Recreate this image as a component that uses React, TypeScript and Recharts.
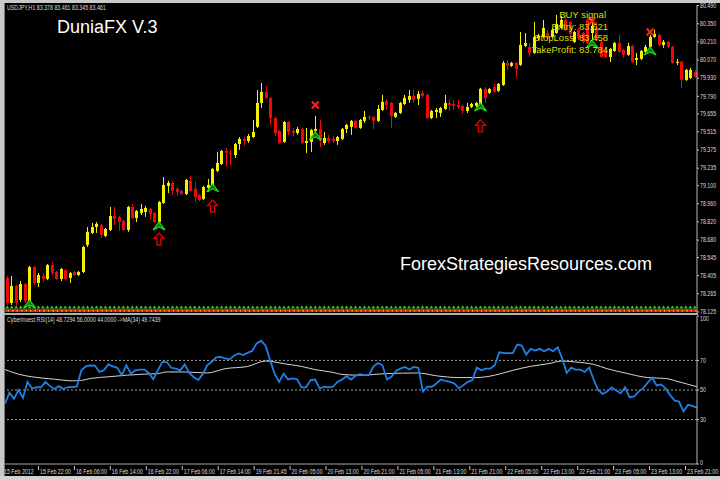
import React from 'react';
import { ComposedChart, Bar, Scatter, Line, XAxis, YAxis, ReferenceLine } from 'recharts';

// [open, high, low, close] for each H1 bar
const candleOHLC: [number, number, number, number][] = [
  [78.388, 78.403, 78.179, 78.195], [78.195, 78.403, 78.179, 78.326], [78.326, 78.334, 78.171, 78.195], [78.218, 78.364, 78.202, 78.341], [78.341, 78.349, 78.195, 78.210],
  [78.202, 78.480, 78.179, 78.472], [78.472, 78.480, 78.334, 78.349], [78.349, 78.426, 78.318, 78.411], [78.403, 78.426, 78.357, 78.380], [78.380, 78.496, 78.372, 78.488],
  [78.488, 78.511, 78.411, 78.426], [78.434, 78.442, 78.372, 78.380], [78.380, 78.465, 78.364, 78.457], [78.449, 78.457, 78.372, 78.380], [78.388, 78.434, 78.349, 78.426],
  [78.434, 78.442, 78.403, 78.411], [78.411, 78.442, 78.403, 78.434], [78.434, 78.635, 78.426, 78.627], [78.642, 78.781, 78.627, 78.743], [78.735, 78.812, 78.727, 78.781],
  [78.781, 78.820, 78.735, 78.805], [78.797, 78.805, 78.696, 78.720], [78.712, 78.774, 78.704, 78.766], [78.758, 78.936, 78.750, 78.866], [78.866, 78.936, 78.797, 78.843],
  [78.859, 78.866, 78.750, 78.820], [78.828, 78.835, 78.750, 78.758], [78.758, 78.944, 78.743, 78.936], [78.936, 78.959, 78.843, 78.851], [78.851, 78.913, 78.820, 78.905],
  [78.889, 78.959, 78.874, 78.920], [78.897, 78.944, 78.859, 78.928], [78.920, 78.928, 78.835, 78.882], [78.889, 78.897, 78.812, 78.820], [78.820, 78.982, 78.805, 78.974],
  [78.967, 79.167, 78.959, 79.106], [79.098, 79.137, 79.044, 79.121], [79.121, 79.129, 79.028, 79.059], [79.075, 79.090, 79.021, 79.052], [79.059, 79.067, 79.028, 79.036],
  [79.036, 79.152, 79.028, 79.144], [79.137, 79.175, 79.052, 79.059], [79.075, 79.129, 78.974, 79.013], [79.028, 79.036, 78.982, 78.990], [78.998, 79.098, 78.990, 79.090],
  [79.083, 79.152, 79.052, 79.106], [79.090, 79.237, 79.083, 79.229], [79.214, 79.361, 79.206, 79.276], [79.268, 79.376, 79.260, 79.368], [79.368, 79.391, 79.245, 79.353],
  [79.353, 79.376, 79.260, 79.345], [79.337, 79.430, 79.314, 79.422], [79.422, 79.476, 79.376, 79.461], [79.461, 79.476, 79.407, 79.445], [79.445, 79.500, 79.430, 79.484],
  [79.476, 79.608, 79.469, 79.515], [79.554, 79.839, 79.546, 79.739], [79.739, 79.893, 79.700, 79.824], [79.824, 79.870, 79.770, 79.778], [79.778, 79.785, 79.569, 79.623],
  [79.623, 79.631, 79.484, 79.507], [79.523, 79.530, 79.422, 79.430], [79.438, 79.600, 79.430, 79.592], [79.592, 79.600, 79.492, 79.515], [79.523, 79.546, 79.484, 79.507],
  [79.507, 79.554, 79.492, 79.538], [79.538, 79.546, 79.422, 79.430], [79.430, 79.546, 79.353, 79.445], [79.438, 79.538, 79.361, 79.530], [79.523, 79.639, 79.515, 79.538],
  [79.538, 79.608, 79.399, 79.445], [79.430, 79.515, 79.415, 79.469], [79.469, 79.492, 79.430, 79.445], [79.461, 79.484, 79.430, 79.445], [79.445, 79.484, 79.415, 79.476],
  [79.461, 79.546, 79.453, 79.538], [79.538, 79.577, 79.507, 79.569], [79.554, 79.608, 79.492, 79.600], [79.600, 79.608, 79.538, 79.546], [79.546, 79.615, 79.538, 79.608],
  [79.600, 79.677, 79.584, 79.631], [79.631, 79.646, 79.608, 79.623], [79.631, 79.639, 79.538, 79.600], [79.600, 79.723, 79.592, 79.693], [79.685, 79.801, 79.677, 79.747],
  [79.754, 79.770, 79.685, 79.723], [79.739, 79.747, 79.546, 79.639], [79.631, 79.669, 79.623, 79.662], [79.662, 79.747, 79.654, 79.739], [79.731, 79.801, 79.723, 79.778],
  [79.762, 79.839, 79.739, 79.793], [79.793, 79.839, 79.739, 79.762], [79.770, 79.832, 79.723, 79.808], [79.816, 79.832, 79.778, 79.793], [79.801, 79.808, 79.615, 79.623],
  [79.623, 79.685, 79.615, 79.677], [79.669, 79.700, 79.623, 79.685], [79.662, 79.708, 79.631, 79.700], [79.693, 79.801, 79.685, 79.739], [79.739, 79.770, 79.677, 79.723],
  [79.731, 79.762, 79.685, 79.716], [79.723, 79.762, 79.693, 79.708], [79.716, 79.723, 79.654, 79.677], [79.677, 79.739, 79.662, 79.708], [79.708, 79.739, 79.700, 79.731],
  [79.716, 79.747, 79.708, 79.739], [79.731, 79.855, 79.708, 79.847], [79.847, 79.862, 79.739, 79.778], [79.816, 79.855, 79.808, 79.847], [79.862, 79.886, 79.816, 79.824],
  [79.832, 79.893, 79.824, 79.886], [79.878, 80.063, 79.870, 80.048], [80.048, 80.071, 79.994, 80.025], [80.025, 80.056, 80.017, 80.048], [80.048, 80.056, 79.932, 80.001],
  [80.032, 80.287, 80.025, 80.187], [80.179, 80.279, 80.171, 80.202], [80.171, 80.202, 80.094, 80.125], [80.125, 80.364, 80.117, 80.249], [80.241, 80.272, 80.225, 80.256],
  [80.249, 80.380, 80.241, 80.318], [80.279, 80.303, 80.225, 80.241], [80.249, 80.318, 80.241, 80.303], [80.279, 80.418, 80.272, 80.349], [80.318, 80.411, 80.310, 80.380],
  [80.380, 80.442, 80.295, 80.303], [80.364, 80.372, 80.256, 80.272], [80.210, 80.295, 80.202, 80.287], [80.303, 80.318, 80.225, 80.241], [80.279, 80.287, 80.195, 80.210],
  [80.380, 80.395, 80.195, 80.202], [80.279, 80.364, 80.195, 80.334], [80.318, 80.364, 80.217, 80.225], [80.210, 80.225, 80.086, 80.094], [80.148, 80.171, 80.086, 80.094],
  [80.094, 80.164, 80.056, 80.156], [80.140, 80.210, 80.133, 80.202], [80.202, 80.264, 80.125, 80.133], [80.148, 80.156, 80.086, 80.110], [80.110, 80.202, 80.102, 80.179],
  [80.179, 80.187, 80.048, 80.056], [80.071, 80.125, 80.032, 80.086], [80.079, 80.148, 80.071, 80.140], [80.133, 80.187, 80.125, 80.171], [80.171, 80.264, 80.164, 80.249],
  [80.249, 80.303, 80.241, 80.272], [80.264, 80.272, 80.179, 80.187], [80.187, 80.225, 80.164, 80.210], [80.210, 80.217, 80.164, 80.171], [80.171, 80.179, 80.040, 80.048],
  [80.048, 80.079, 80.032, 80.056], [80.056, 80.063, 79.855, 79.917], [79.917, 80.001, 79.909, 79.994], [79.932, 80.009, 79.924, 79.994], [79.978, 79.994, 79.932, 79.940],
];

const rsiValues: number[] = [
  40.7, 48.2, 44, 50, 44.7, 55.5, 51, 52, 51.7, 55.5,
  52.6, 50.7, 52.6, 50.7, 52, 52, 52.4, 63.3, 66, 66.7,
  66.5, 62.2, 63.3, 67.3, 66, 65, 60, 66.7, 61, 63.3,
  63.8, 63.8, 61.5, 57.3, 63.3, 68.9, 68.9, 65, 64.4, 63.3,
  67.3, 61.5, 58.6, 56.7, 60.7, 66.7, 69.1, 72, 72.4, 71.3,
  70.7, 73.3, 74.7, 73.6, 75.1, 76.4, 81.5, 83.3, 80, 70,
  61.1, 55.5, 61.1, 57.1, 57.8, 57.3, 51.8, 51.8, 56.7, 57.1,
  51.1, 52.2, 51.8, 52.2, 55.5, 57.1, 59.3, 57.1, 59.6,
  60.7, 60, 60, 66, 68.2, 66.7, 57.1, 58.9, 62.9, 64.4,
  65.6, 63.8, 65.6, 65, 48.9, 52.2, 52.2, 54.4, 57.1, 56.2,
  55.5, 54.4, 51.1, 53.3, 55.5, 56.7, 65.1, 63.3, 64.4, 64.4,
  66.7, 75.5, 74.9, 74.9, 74.9, 80.7, 80, 74, 77.8, 76.7,
  77.8, 76.2, 77.8, 76.2, 78.9, 71.3, 61.5, 65.1, 63.8, 63.8,
  62.2, 65.1, 57.1, 50, 47.3, 48.9, 51.8, 49.6, 47.8, 51.8,
  45.1, 45.6, 48.9, 51.1, 54.9, 58.4, 53.1, 53.8, 51.1, 46.7,
  42.9, 42.2, 35.5, 40, 39.3, 37.8,
];

const maBars = [0, 3, 6, 11, 15, 17, 19, 23, 27, 31, 34, 36, 40, 45, 49, 54, 58, 62, 66, 69, 73, 75, 79, 85, 92, 96, 101, 105, 109, 113, 117, 121, 124, 127, 131, 134, 138, 143, 147, 150, 154];
const maValues = [63.8, 60.7, 58.9, 57.3, 56.2, 56.5, 57.8, 58.9, 60, 60.7, 61.1, 62.2, 62.2, 61.5, 64.4, 65.9, 69.6, 67.8, 65.9, 63.8, 61.9, 60.5, 60, 61.1, 61.5, 59.6, 58.4, 58.4, 60, 63.3, 66, 67.8, 69.6, 68.9, 67.3, 64.4, 61.5, 58.4, 57.8, 55.5, 52.2];

const timeLabelBars = [0, 8, 16, 24, 32, 40, 48, 56, 64, 72, 80, 88, 96, 104, 112, 120, 128, 136, 144, 152];
const timeLabels = [
  '15 Feb 2012', '15 Feb 22:00', '16 Feb 06:00', '16 Feb 14:00', '16 Feb 22:00', '17 Feb 06:00', '17 Feb 14:00',
  '19 Feb 21:45', '20 Feb 05:00', '20 Feb 13:00', '20 Feb 21:00', '21 Feb 05:00', '21 Feb 13:00', '21 Feb 21:00',
  '22 Feb 05:00', '22 Feb 13:00', '22 Feb 21:00', '23 Feb 05:00', '23 Feb 13:00', '23 Feb 21:00',
];

const priceTicks = [80.49, 80.35, 80.21, 80.07, 79.93, 79.79, 79.655, 79.515, 79.375, 79.235, 79.1, 78.96, 78.82, 78.68, 78.545, 78.405, 78.265, 78.125];
const rsiTicks = [100, 70, 50, 30, 0];
const rsiLevels = [70, 50, 30];

const buySignalBars = [5, 34, 46, 69, 106, 131, 144];
const buySignalPrices = [78.218, 78.820, 79.114, 79.515, 79.739, 80.225, 80.171];
const upArrowBars = [34, 46, 106];
const upArrowPrices = [78.735, 78.990, 79.608];
const exitMarkBars = [69, 131, 144];
const exitMarkPrices = [79.723, 80.372, 80.287];
const stripPrice = 78.144;

const BULL = '#f2f200';
const BEAR = '#ee0a0a';
const FONT = "'Liberation Sans', Arial, sans-serif";

const rows: any[] = candleOHLC.map(([open, high, low, close], i) => ({ i, open, high, low, close, strip: stripPrice }));
buySignalBars.forEach((b, k) => { rows[b].buy = buySignalPrices[k]; });
upArrowBars.forEach((b, k) => { rows[b].up = upArrowPrices[k]; });
exitMarkBars.forEach((b, k) => { rows[b].exit = exitMarkPrices[k]; });

const rsiRows: any[] = rsiValues.map((rsi, i) => ({ i, rsi, ma: null }));
maBars.forEach((b, k) => { rsiRows[b].ma = maValues[k]; });

const SmallText = ({ x, y, children, anchor = 'start', fill = '#dcdcdc' }: any) => (
  <text transform={`translate(${x},${y}) scale(0.8,1)`} fontSize={6.6} fontFamily={FONT} fill={fill} textAnchor={anchor}>
    {children}
  </text>
);

const ok = (v: any) => typeof v === 'number' && Number.isFinite(v);

const CandleShape = (props: any) => {
  const { x, y, width, height, payload } = props;
  if (!payload || !ok(x) || !ok(y) || !ok(height)) return <g />;
  const { open, close, high, low } = payload;
  const span = high - low || 1e-9;
  const top0 = Math.min(y, y + height);
  const h = Math.abs(height);
  const toY = (v: number) => top0 + ((high - v) / span) * h;
  const base = Math.round(x + width / 2);
  const color = close >= open ? BULL : BEAR;
  const bt = toY(Math.max(open, close));
  const bb = toY(Math.min(open, close));
  return (
    <g>
      <line x1={base + 0.5} x2={base + 0.5} y1={top0} y2={top0 + h} stroke={color} strokeWidth={1} />
      <rect x={base - 1} y={bt} width={3} height={Math.max(1, bb - bt)} fill={color} />
    </g>
  );
};

const BuyShape = (props: any) => {
  const { cx, cy, payload } = props;
  if (!payload || payload.buy == null || !ok(cx) || !ok(cy)) return <g />;
  return (
    <polygon
      points={`${cx},${cy} ${cx + 6},${cy + 8} ${cx},${cy + 5} ${cx - 6},${cy + 8}`}
      fill="#007a00"
      stroke="#22dd22"
      strokeWidth={1.1}
    />
  );
};

const UpShape = (props: any) => {
  const { cx, cy, payload } = props;
  if (!payload || payload.up == null || !ok(cx) || !ok(cy)) return <g />;
  return (
    <polygon
      points={`${cx},${cy} ${cx + 5},${cy + 5.5} ${cx + 2},${cy + 5.5} ${cx + 2},${cy + 12} ${cx - 2},${cy + 12} ${cx - 2},${cy + 5.5} ${cx - 5},${cy + 5.5}`}
      fill="none"
      stroke="#e00000"
      strokeWidth={1.4}
    />
  );
};

const ExitShape = (props: any) => {
  const { cx, cy, payload } = props;
  if (!payload || payload.exit == null || !ok(cx) || !ok(cy)) return <g />;
  const s = 3.5;
  return (
    <g stroke="#ff2020" strokeWidth={2}>
      <line x1={cx - s} y1={cy - s} x2={cx + s} y2={cy + s} />
      <line x1={cx - s} y1={cy + s} x2={cx + s} y2={cy - s} />
    </g>
  );
};

const StripShape = (props: any) => {
  const { cx, cy } = props;
  if (!ok(cx) || !ok(cy)) return <g />;
  return (
    <g>
      <polygon points={`${cx},${cy - 4} ${cx + 2},${cy - 1} ${cx - 2},${cy - 1}`} fill="#30d030" />
      <rect x={cx - 2.3} y={cy - 0.5} width={4.6} height={3} fill="#f01010" />
      <rect x={cx + 0.5} y={cy + 0.5} width={1.5} height={1.5} fill="#f0c000" />
    </g>
  );
};

const PriceTick = (props: any) => {
  const { x, y, payload } = props;
  return <SmallText x={x} y={y + 2.3}>{Number(payload.value).toFixed(3)}</SmallText>;
};

const RsiTick = (props: any) => {
  const { x, y, payload } = props;
  const v = payload.value;
  const dy = v === 100 ? 5.3 : v === 0 ? 0.6 : 2.3;
  return <SmallText x={x} y={y + dy}>{v}</SmallText>;
};

const TimeTick = (props: any) => {
  const { x, y, payload } = props;
  const k = timeLabelBars.indexOf(payload.value);
  if (k < 0) return <g />;
  return (
    <g>
      <line x1={x - 2.5} x2={x - 2.5} y1={y + 2} y2={y + 6} stroke="#c8c8c8" strokeWidth={1} />
      <SmallText x={x - 1} y={y + 10}>{timeLabels[k]}</SmallText>
    </g>
  );
};

export default function App() {
  return (
    <div style={{ position: 'fixed', left: 0, top: 0, width: 720, height: 479, background: '#000', overflow: 'hidden' }}>
      <div style={{ position: 'absolute', left: 0, top: 0 }}>
        <ComposedChart width={720} height={316} data={rows} margin={{ top: 5, right: 0, bottom: 3, left: 5 }} barCategoryGap={0} barGap={0}>
          <XAxis dataKey="i" hide />
          <YAxis
            orientation="right"
            width={23}
            domain={[78.117, 80.495]}
            ticks={priceTicks}
            interval={0}
            tick={<PriceTick />}
            tickSize={2}
            tickMargin={1}
            tickLine={{ stroke: '#c8c8c8' }}
            axisLine={{ stroke: '#b8b8b8' }}
            allowDataOverflow
          />
          <Bar dataKey={(d: any) => [d.low, d.high]} shape={<CandleShape />} isAnimationActive={false} />
          <Scatter dataKey="strip" shape={<StripShape />} isAnimationActive={false} />
          <Scatter dataKey="buy" shape={<BuyShape />} isAnimationActive={false} />
          <Scatter dataKey="up" shape={<UpShape />} isAnimationActive={false} />
          <Scatter dataKey="exit" shape={<ExitShape />} isAnimationActive={false} />
        </ComposedChart>
      </div>
      <div style={{ position: 'absolute', left: 0, top: 314 }}>
        <ComposedChart width={720} height={165} data={rsiRows} margin={{ top: 2, right: 0, bottom: 0, left: 5 }}>
          <XAxis
            dataKey="i"
            height={15}
            interval={0}
            tick={<TimeTick />}
            tickSize={0}
            tickMargin={0}
            tickLine={false}
            axisLine={{ stroke: '#a8a8a8' }}
          />
          <YAxis
            orientation="right"
            width={23}
            domain={[0, 100]}
            ticks={rsiTicks}
            interval={0}
            tick={<RsiTick />}
            tickSize={2}
            tickMargin={1}
            tickLine={{ stroke: '#c8c8c8' }}
            axisLine={{ stroke: '#b8b8b8' }}
          />
          {rsiLevels.map((lv) => (
            <ReferenceLine key={lv} y={lv} stroke="#a0a0a0" strokeDasharray="2 2" strokeWidth={1} />
          ))}
          <Line dataKey="ma" type="monotone" stroke="#d4d4d4" strokeWidth={1} dot={false} connectNulls isAnimationActive={false} />
          <Line dataKey="rsi" type="linear" stroke="#1f80e6" strokeWidth={1.8} dot={false} isAnimationActive={false} />
        </ComposedChart>
      </div>
      {/* frame */}
      <div style={{ position: 'absolute', left: 0, top: 0, width: 4, height: 479, background: '#c8c8c8' }} />
      <div style={{ position: 'absolute', left: 0, top: 0, width: 720, height: 3, background: '#c8c8c8' }} />
      <div style={{ position: 'absolute', left: 4, top: 3, width: 1, height: 473, background: '#7a7a7a' }} />
      <div style={{ position: 'absolute', left: 4, top: 313, width: 694, height: 2, background: '#b0b0b0' }} />
      <div style={{ position: 'absolute', left: 0, top: 476, width: 720, height: 3, background: '#d0d0d0' }} />
      <svg width={720} height={479} style={{ position: 'absolute', left: 0, top: 0, pointerEvents: 'none' }}>
        <SmallText x={7} y={9.5}>USDJPY,H1  83.378 83.461 83.345 83.461</SmallText>
        <text x={57} y={32.5} fontSize={18} fill="#ffffff" fontFamily={FONT}>DuniaFX V.3</text>
        <g fontSize={9.5} fill="#dede00" fontFamily={FONT} textAnchor="end">
          <text x={606} y={18}>BUY signal</text>
          <text x={608} y={29.5}>Entry: 83.621</text>
          <text x={608} y={41}>StopLoss: 83.458</text>
          <text x={608} y={53}>TakeProfit: 83.784</text>
        </g>
        <text x={400} y={270} fontSize={18} fill="#ffffff" fontFamily={FONT}>ForexStrategiesResources.com</text>
        <SmallText x={7} y={322}>CyberInvest RSI(14) 48.7294 56.0000 44.0000 -&gt;MA(34) 49.7439</SmallText>
      </svg>
    </div>
  );
}
